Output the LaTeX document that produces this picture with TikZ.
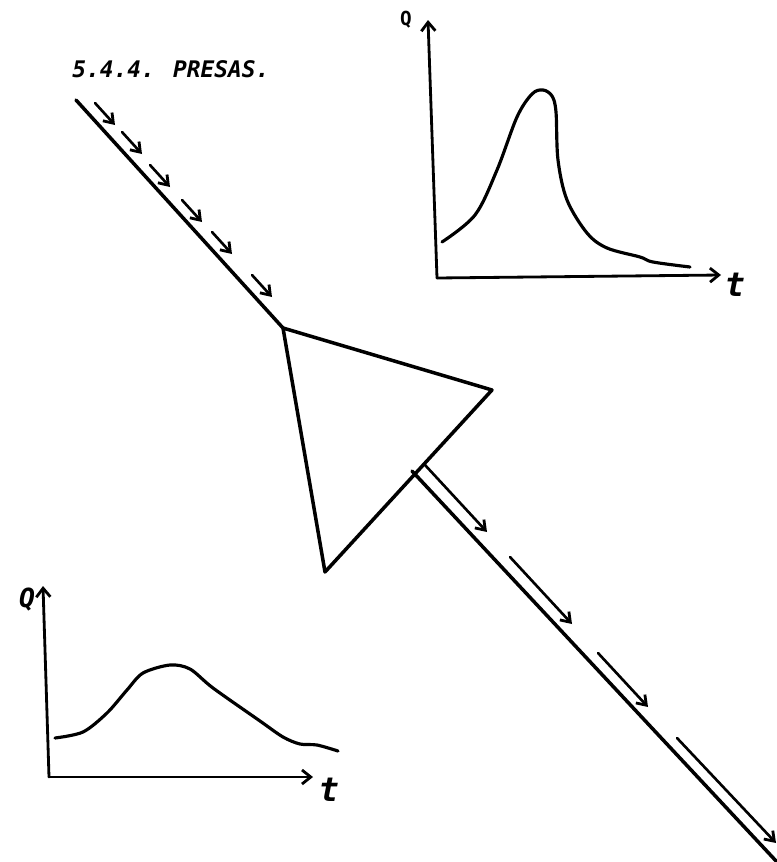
\documentclass[tikz,border=0pt]{standalone}
\usepackage{fontspec}
\newfontfamily\mano{DejaVu Sans Mono}
\usetikzlibrary{arrows.meta}
\tikzset{
  linea/.style={line width=2pt, line cap=round, line join=round},
  flecha/.style={line width=1.5pt, line cap=round, -{Straight Barb[length=5pt,width=7pt,line width=1.6pt]}},
  eje/.style={line width=1.6pt, line cap=round, -{Straight Barb[length=5pt,width=8pt,line width=1.6pt]}},
  curva/.style={line width=1.8pt, line cap=round},
  rotulo/.style={font=\mano\itshape\bfseries, inner sep=0pt}
}
\begin{document}
\begin{tikzpicture}[x=0.02cm, y=-0.02cm]
\useasboundingbox (0,0) rectangle (777,862);
\node[rotulo, anchor=west, font=\mano\itshape\bfseries\fontsize{13}{14}\selectfont] (titulo) at (72,69) {5.4.4. PRESAS.};
% presa
\coordinate (A) at (283,328);
\coordinate (B) at (492,390);
\coordinate (C) at (325,572);
\draw[linea] (A) -- (B) -- (C) -- cycle;
% rio aguas arriba y aguas abajo
\coordinate (entrada) at (76,100);
\coordinate (salida1) at (412,471);
\coordinate (salida2) at (777,862);
\draw[linea] (entrada) -- (A);
\draw[linea] (salida1) -- (salida2);
\foreach \a/\b in {95/103, 122/132, 150/165, 182/200, 212/232, 252/275}
    \draw[flecha] (\a,\b) -- ++(20,22);
\foreach \a/\b/\c/\d in {425/465/487/532, 510/557/572/624, 598/653/648/707, 677/738/776/843}
    \draw[flecha] (\a,\b) -- (\c,\d);
% hidrograma de entrada
\coordinate (osup) at (437,278);
\coordinate (qsup) at (428,20);
\coordinate (tsup) at (721,275);
\draw[eje] (osup) -- (qsup);
\draw[eje] (osup) -- (tsup);
\node[rotulo, font=\mano\bfseries\fontsize{11}{12}\selectfont] (Qs) at (406,20) {Q};
\node[rotulo, font=\mano\itshape\bfseries\fontsize{19}{20}\selectfont] (ts) at (735,285) {t};
\draw[curva] plot[smooth, tension=0.55] coordinates {(442,242) (475,215) (497,170) (517,117) (532,94) (543,90) (552,96) (556,112) (558,160) (567,200) (587,233) (607,248) (640,257) (653,262) (690,267)};
% hidrograma de salida
\coordinate (oinf) at (49,777);
\coordinate (qinf) at (43,586);
\coordinate (tinf) at (313,777);
\draw[eje] (oinf) -- (qinf);
\draw[eje] (oinf) -- (tinf);
\node[rotulo, font=\mano\itshape\bfseries\fontsize{15}{16}\selectfont] (Qi) at (27,600) {Q};
\node[rotulo, font=\mano\itshape\bfseries\fontsize{19}{20}\selectfont] (ti) at (329,790) {t};
\draw[curva] plot[smooth, tension=0.5] coordinates {(55,738) (83,732) (107,713) (127,690) (143,673) (170,665) (190,669) (213,688) (260,721) (283,737) (300,744) (317,745) (338,751)};
\end{tikzpicture}
\end{document}
